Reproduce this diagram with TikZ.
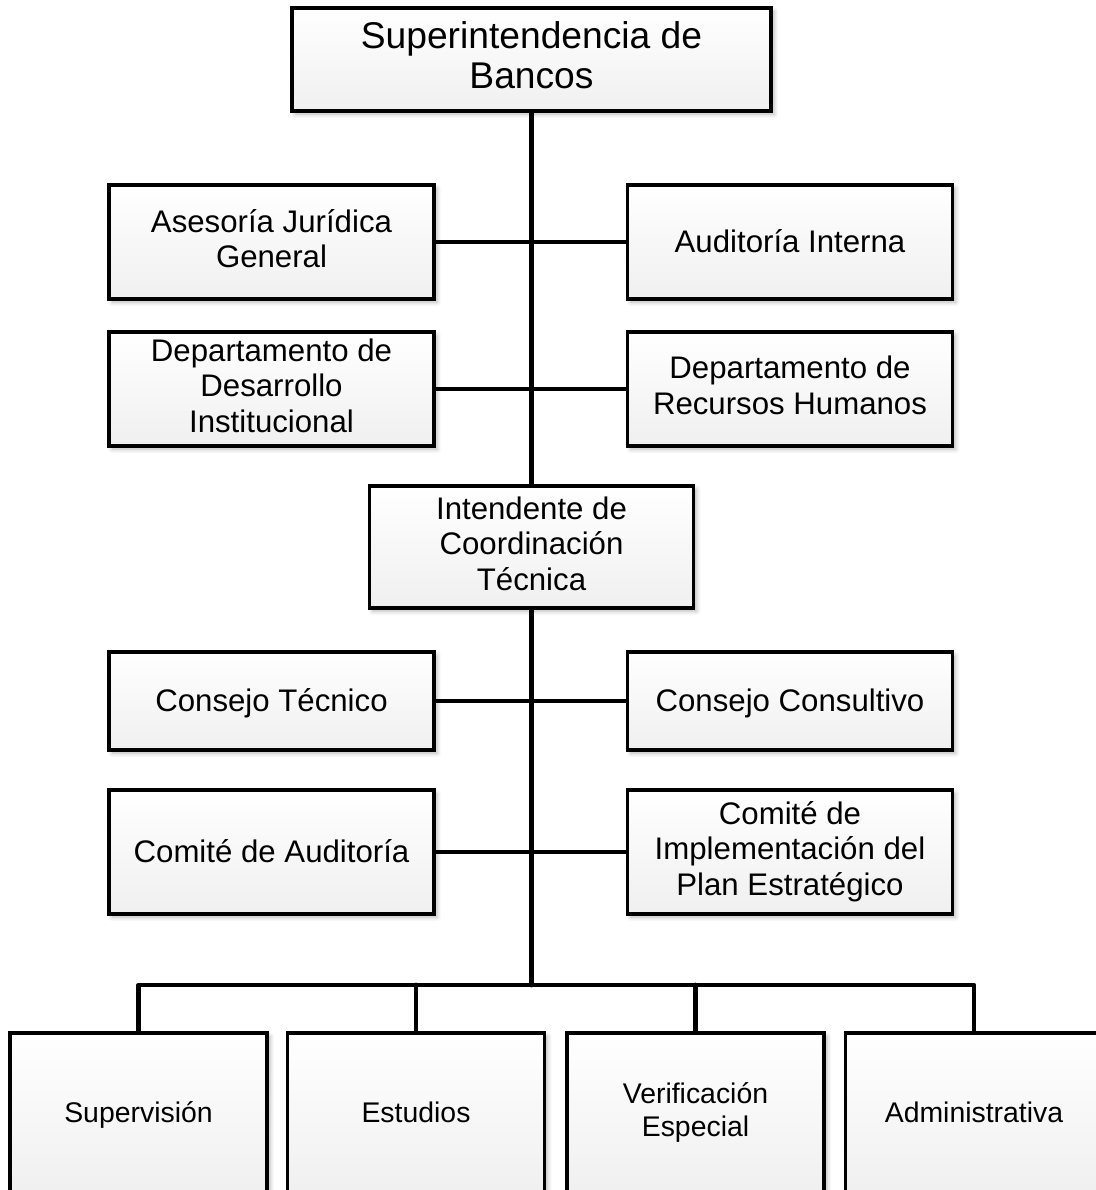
\documentclass[tikz,border=0pt]{standalone}
\usepackage{fontspec}
\setmainfont{Liberation Sans}
\usetikzlibrary{shadows.blur}

% strut balanced around the middle of the capitals
\newcommand\capstrut{\rule[-0.2\baselineskip]{0pt}{\baselineskip}}

\tikzset{
  unit box/.style={
    draw=black, line width=1.7pt, rectangle, align=center,
    top color=white, bottom color=black!6,
    blur shadow={shadow xshift=1.6pt, shadow yshift=-1.6pt, shadow blur steps=5, shadow opacity=28},
    inner sep=0pt, font=\fontsize{15.6}{17.8}\selectfont,
    execute at begin node=\capstrut, execute at end node=\capstrut},
  head box/.style={unit box, minimum width=239.5pt, minimum height=51.5pt,
    font=\fontsize{18.6}{20}\selectfont},
  side box/.style={unit box, minimum width=162.5pt},
  area box/.style={unit box, minimum width=128.5pt, minimum height=80pt,
    font=\fontsize{14.2}{16.5}\selectfont},
  link/.style={line width=2.4pt, line join=round, line cap=round}
}

\begin{document}
\begin{tikzpicture}[x=0.5pt, y=-0.5pt]
  \useasboundingbox (0,0) rectangle (1096,1190);

  % junction of the main line with the distribution bus
  \coordinate (bus) at (531.5,985);

  % head of the organisation
  \node[head box] (sup) at (531.5,59.5) {Superintendencia de\\Bancos};

  % staff units under the head
  \node[side box, minimum height=57pt] (asj) at (271.5,242) {Asesoría Jurídica\\General};
  \node[side box, minimum height=57pt] (aud) at (790,242) {Auditoría Interna};
  \node[side box, minimum height=57pt] (ddi) at (271.5,389) {Departamento de\\Desarrollo\\Institucional};
  \node[side box, minimum height=57pt] (drh) at (790,389) {Departamento de\\Recursos Humanos};

  % technical coordination
  \node[side box, minimum width=162pt, minimum height=61pt] (ict) at (531.5,547) {Intendente de\\Coordinación\\Técnica};

  \node[side box, minimum height=49pt] (cte) at (271.5,701) {Consejo Técnico};
  \node[side box, minimum height=49pt] (cco) at (790,701) {Consejo Consultivo};
  \node[side box, minimum height=62pt] (cau) at (271.5,852) {Comité de Auditoría};
  \node[side box, minimum height=62pt] (cip) at (790,852) {Comité de\\Implementación del\\Plan Estratégico};

  % operating areas
  \node[area box] (sv) at (138.5,1113) {Supervisión};
  \node[area box] (es) at (416,1113) {Estudios};
  \node[area box] (ve) at (695.5,1113) {Verificación\\Especial};
  \node[area box] (ad) at (974,1113) {Administrativa};

  % main line
  \draw[link] (sup.south) -- (ict.north);
  \draw[link] (ict.south) -- (bus);

  % lateral links
  \draw[link] (asj.east) -- (aud.west);
  \draw[link] (ddi.east) -- (drh.west);
  \draw[link] (cte.east) -- (cco.west);
  \draw[link] (cau.east) -- (cip.west);

  % distribution bus to the areas
  \draw[link] (sv.north) |- (bus) -| (ad.north);
  \draw[link] (es.north) -- (es.north |- bus);
  \draw[link] (ve.north) -- (ve.north |- bus);
\end{tikzpicture}
\end{document}
